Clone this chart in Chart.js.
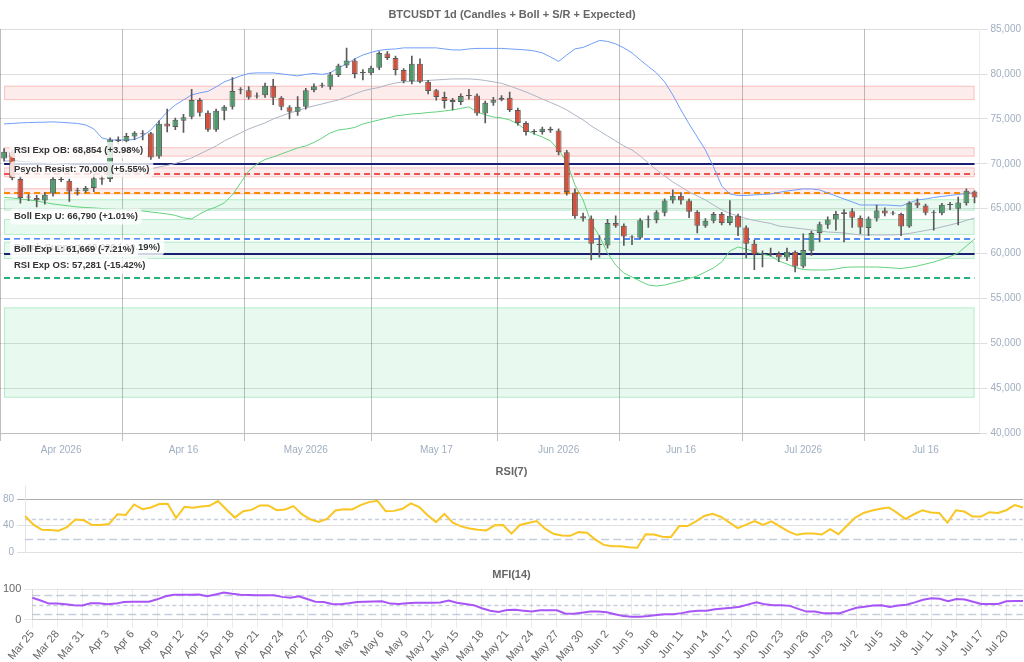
<!DOCTYPE html>
<html>
<head>
<meta charset="utf-8">
<script src="https://cdn.jsdelivr.net/npm/chart.js@4.4.1/dist/chart.umd.min.js"></script>
<style>
  html, body { margin: 0; padding: 0; background: #fff; }
  body { width: 1024px; height: 662px; position: relative; overflow: hidden; }
  .panel { position: absolute; left: 0; width: 1024px; }
</style>
</head>
<body>
<div class="panel" style="top:0;height:461px"><canvas id="mainChart" width="1024" height="461"></canvas></div>
<div class="panel" style="top:458px;height:103px"><canvas id="rsiChart" width="1024" height="103"></canvas></div>
<div class="panel" style="top:556px;height:108px"><canvas id="mfiChart" width="1024" height="108"></canvas></div>
<script>
// ---- candles (Mar 25 .. Jul 22, 2026) ----
const opens = [70600,71300,68300,66300,66200,65900,66700,68200,68100,67000,66950,67300,68400,68300,72700,72500,73050,73300,73400,70800,
  74500,74100,74800,75250,77100,75700,73800,75900,76350,78200,78200,77500,77650,78700,77350,76300,75800,76350,78200,78700,
  78600,79900,80950,81500,80250,80100,80700,82300,81800,80450,79200,81150,79150,78200,77450,77100,76900,77550,77600,75600,
  76800,77150,77350,76000,74550,73600,73550,73900,73700,71300,66800,64150,63900,61000,60900,63400,63100,61800,61750,63700,
  63700,64550,65900,66450,65900,64650,63100,63650,64400,63400,64200,62900,61100,60000,59950,60000,59550,60200,58550,60300,
  62300,63200,63800,64400,64700,64000,62850,63900,64800,64450,64400,63000,65700,65350,64550,64500,65400,65000,65600,66900];
const highs = [71700,71500,68600,66600,66500,66800,68500,68500,68300,67300,67500,68800,68700,72900,73000,73400,73600,73700,73500,74800,
  76100,75100,75500,78300,77300,75900,76100,76500,79600,78500,78600,77900,79000,79400,77500,76500,77500,78400,78900,79000,
  80200,81100,82900,81700,80500,80900,82500,82500,82000,80600,82000,81700,79300,78300,78000,77300,77800,78300,77800,77000,
  77400,77600,78000,76200,74700,73800,74100,74100,73900,71500,67200,64500,64200,62000,63800,64200,63300,62000,63900,64200,
  64800,66100,67100,66800,66100,64800,63900,64600,64600,65900,64400,63100,61500,60300,60600,60200,60600,60300,62200,62500,
  63500,64100,64700,64900,65000,64200,64100,65400,65100,64700,64500,65800,66100,65500,64800,65600,65700,66300,67200,67000];
const lows = [70300,68200,65600,65900,65200,65500,66400,68000,65800,66500,66800,66900,67700,68000,72200,72300,72700,72660,70500,70600,
  73550,73800,73500,75000,75300,73600,73600,74900,76100,77800,77200,77300,77400,76600,76000,75000,75400,76100,78000,78500,
  78300,79700,80700,79570,79350,79900,80500,81600,79900,79000,78900,79000,77800,77100,76200,76000,76600,77200,75400,74550,
  76500,77000,75800,74300,73200,73300,73300,73500,71000,66500,63900,63600,59280,59600,60600,62900,60900,61000,61600,62900,
  63400,64200,65600,65500,64000,62300,62900,63400,63200,63200,62000,59500,58200,58500,59700,59100,59200,57950,58400,59800,
  61300,62800,62600,61300,62900,62200,62000,63600,64200,64300,62000,62900,65100,64300,62600,64300,64900,63200,65400,65650];
const closes = [71350,68400,66200,66250,65950,66550,68300,68300,66900,66950,67300,68400,68250,72700,72500,73100,73450,73400,70700,74450,
  74150,74900,75200,77100,75700,73800,75900,76350,78100,78250,77400,77600,78700,77350,76350,75800,76350,78200,78650,78800,
  79950,80950,81500,80000,80100,80700,82350,81800,80450,79200,81150,79150,78100,77450,77000,76900,77550,77600,75600,76800,
  77150,77350,76000,74550,73550,73550,73900,73700,71300,66850,64150,63900,61100,60950,63400,63100,61900,61850,63700,63750,
  64600,65900,66450,65900,64650,63100,63650,64400,63400,64200,62900,61100,59900,59900,60000,59550,60200,58550,60400,62300,
  63250,63800,64400,64600,64000,62900,63900,64800,64450,64500,63000,65650,65350,64550,64500,65450,65500,65700,67000,66250];

// ---- Bollinger bands ----
const bollUpper = [74440,74500,74560,74590,74620,74640,74670,74620,74560,74500,74330,73890,72880,72660,72660,72660,72710,73100,73770,74780,
  75780,76560,77120,77680,77900,78070,78570,79130,79460,79790,80070,80130,80130,80130,80020,79910,79790,79960,80070,79960,
  80130,80690,81130,81690,82130,82410,82640,82750,82800,82920,82920,82920,82920,82920,82800,82690,82690,82800,82860,82860,
  82860,82860,82800,82750,82690,82580,82360,81910,81410,82130,82800,82970,83360,83750,83640,83360,82920,82360,81580,80850,
  80130,79130,77680,76000,74440,72990,71540,69650,67530,66640,66470,66470,66530,66580,66640,66810,66970,67090,67200,67200,
  67090,66750,66420,66080,65750,65410,65410,65410,65410,65360,65300,65640,65970,66080,66250,66360,66470,66580,66700,66750];
const bollMid = [70320,70320,70270,70210,70150,70100,70040,69980,69870,69760,69650,69480,69090,68930,68870,68870,68980,69200,69430,69650,
  69820,70040,70320,70650,71100,71540,71990,72550,72990,73440,73880,74220,74550,75000,75330,75670,75890,76230,76450,76670,
  76900,77120,77450,77790,78120,78340,78510,78790,79010,79130,79180,79240,79290,79350,79400,79460,79460,79460,79400,79290,
  79130,78960,78680,78340,78010,77620,77230,76840,76450,76000,75440,74890,74220,73660,73100,72550,71990,71540,70880,70100,
  69320,68650,67980,67420,66860,66420,65970,65410,64860,64470,64190,63910,63690,63520,63350,63070,62960,62850,62740,62630,
  62520,62400,62350,62290,62180,62070,62070,62070,62070,62070,62120,62240,62400,62570,62740,62960,63180,63410,63690,63960];
const bollLower = [66250,66190,66080,65970,65860,65690,65520,65410,65300,65190,65130,65080,65020,64970,64910,64860,64800,64740,64630,64520,
  64410,64250,63970,63860,64410,64860,65190,65640,66530,67870,69200,69980,70480,70760,71100,71430,71770,71990,72380,72880,
  73440,73770,73880,74050,74440,74670,74890,75110,75330,75450,75560,75610,75720,75780,75890,76000,76170,76340,75780,75450,
  75220,75110,74890,74440,73770,73330,72990,72550,71550,70210,67640,65970,63410,61960,60050,58720,57830,57380,56930,56490,
  56380,56490,56720,56940,57220,57500,57940,58390,59060,60280,60730,60510,60170,59950,59720,59170,58830,58450,58220,58170,
  58170,58170,58280,58450,58500,58500,58500,58500,58450,58390,58330,58450,58610,58830,59060,59340,59670,60060,60840,61620];

// ---- oscillators ----
const rsi7 = [54.8,41.5,33.8,33.3,32.3,37.9,49.2,48.2,41.0,41.0,42.5,57.4,56.4,72.3,65.1,67.7,72.8,73.3,51.7,68.6,
  67.1,69.2,70.2,77.4,64.6,52.3,62.0,64.0,70.8,70.8,63.5,64.6,69.7,57.4,49.7,45.5,50.2,63.1,65.1,64.6,
  71.2,75.8,77.9,62.0,62.5,65.6,73.8,68.2,55.8,45.5,57.9,44.6,38.9,35.8,33.8,32.8,40.5,41.0,28.0,41.0,
  44.0,47.1,35.4,27.7,25.1,24.6,30.2,29.2,18.9,10.8,8.6,8.6,7.1,6.6,27.1,26.6,23.1,22.5,39.4,39.4,
  46.6,54.8,57.9,53.2,44.6,36.3,41.5,47.1,41.0,46.6,38.9,31.2,26.1,28.2,28.2,26.6,34.8,27.1,40.0,52.3,
  59.4,63.1,65.6,67.7,59.4,50.2,57.4,63.5,60.0,59.4,44.6,63.5,61.5,53.8,53.8,60.5,59.4,63.5,71.2,67.7];
const mfi14 = [72,63,53,53,51,48,47,54,54,51,53,58,59,59,59,67,77,82,82,82,
  83,77,83,89,85,82,81,80,80,80,75,72,77,68,59,58,52,51,54,58,
  59,60,61,53,52,54,56,56,56,57,63,56,52,48,38,30,26,32,33,30,
  27,31,31,31,21,20,23.5,27,27,24.7,18.5,12.3,10,10,12.3,16,18.5,18.5,22,27,
  29.6,29.6,34.6,37,39.5,43,50.6,57,50.6,48,48,45.7,35.8,27,27,22,22,22,31,39.5,
  43,47,48,42,47,49.4,57,65.4,70.4,69,60.5,68,66.7,59.3,52,52,52,60.5,61.7,61.7];

// ---- S/R zones and expected levels ----
const resistZones = [[77100, 78700], [70800, 71850], [68500, 69600], [66600, 67280]];
const supportZones = [[64780, 66050], [62070, 63850], [59390, 61320], [43930, 54000]];
const levelNames = ["RSI Exp OB", "Psych Resist", "Boll Exp U", "Psych Support", "Boll Exp L", "RSI Exp OS"];
const levelValues = [68854, 70000, 66790, 60000, 61669, 57281];
const levelPcts = ["+3.98%", "+5.55%", "+1.01%", "-10.19%", "-7.21%", "-15.42%"];

// ---- x tick labels ----
const mainTickIdx = [7, 22, 37, 53, 68, 83, 98, 113];
const mainTickLabels = ["Apr 2026", "Apr 16", "May 2026", "May 17", "Jun 2026", "Jun 16", "Jul 2026", "Jul 16"];
const monthNames = ["Jan","Feb","Mar","Apr","May","Jun","Jul","Aug","Sep","Oct","Nov","Dec"];
const dayLabels = closes.map((_, i) => {
  const d = new Date(2026, 2, 25 + i);
  return monthNames[d.getMonth()] + " " + d.getDate();
});

// styles
const levelStyle = [
  { color: "#ef5350", dash: [6, 4] },
  { color: "#1a1f71", dash: [] },
  { color: "#fb8c00", dash: [6, 4] },
  { color: "#1a1f71", dash: [] },
  { color: "#4f8ef7", dash: [6, 4] },
  { color: "#26b07a", dash: [6, 4] }
];
const labelShift = [-24, 5.5, 24, -6, 10.7, -12.3];
const upColor = "#4f9a6d";
const downColor = "#d3503c";

Chart.defaults.font.family = "'Liberation Sans', Arial, sans-serif";
Chart.defaults.animation = false;

const idx = closes.map((_, i) => i);
const asPoints = arr => arr.map((v, i) => ({ x: i, y: v }));

const levelsPlugin = {
  id: "levels",
  beforeDatasetsDraw(chart) {
    const { ctx, scales: { x, y } } = chart;
    const x0 = x.getPixelForValue(0);
    const x1 = x.getPixelForValue(closes.length - 1);
    ctx.save();
    const drawZone = (z, fill, stroke) => {
      const top = y.getPixelForValue(z[1]);
      const bot = y.getPixelForValue(z[0]);
      ctx.fillStyle = fill;
      ctx.fillRect(x0, top, x1 - x0, bot - top);
      ctx.strokeStyle = stroke;
      ctx.lineWidth = 1;
      ctx.strokeRect(x0 + 0.5, top + 0.5, x1 - x0 - 1, bot - top - 1);
    };
    resistZones.forEach(z => drawZone(z, "rgba(239,68,68,0.10)", "rgba(239,68,68,0.25)"));
    supportZones.forEach(z => drawZone(z, "rgba(34,197,94,0.10)", "rgba(34,197,94,0.25)"));
    levelValues.forEach((v, k) => {
      const py = Math.round(y.getPixelForValue(v));
      ctx.strokeStyle = levelStyle[k].color;
      ctx.setLineDash(levelStyle[k].dash);
      ctx.lineWidth = 2;
      ctx.beginPath();
      ctx.moveTo(x0, py);
      ctx.lineTo(x1, py);
      ctx.stroke();
    });
    ctx.restore();
  },
  afterDatasetsDraw(chart) {
    const { ctx, scales: { y }, chartArea } = chart;
    ctx.save();
    ctx.font = "bold 9.5px 'Liberation Sans', Arial, sans-serif";
    ctx.textBaseline = "middle";
    levelNames.forEach((name, k) => {
      const txt = name + ": " + levelValues[k].toLocaleString("en-US") + " (" + levelPcts[k] + ")";
      const cy = y.getPixelForValue(levelValues[k]) + labelShift[k];
      const w = ctx.measureText(txt).width;
      const bx = chartArea.left + 10;
      ctx.fillStyle = "rgba(255,255,255,0.8)";
      ctx.beginPath();
      ctx.roundRect(bx, cy - 8, w + 8, 16, 4);
      ctx.fill();
      ctx.fillStyle = "#333";
      ctx.fillText(txt, bx + 4, cy);
    });
    ctx.restore();
  }
};

// Main chart - candles + bands + levels
new Chart(document.getElementById("mainChart"), {
  type: "bar",
  data: {
    datasets: [
      { type: "line", label: "Boll Upper", data: asPoints(bollUpper), borderColor: "#6f9ef8", borderWidth: 1, pointRadius: 0, order: 5 },
      { type: "line", label: "Boll Mid", data: asPoints(bollMid), borderColor: "#aeb4c4", borderWidth: 1, pointRadius: 0, order: 5 },
      { type: "line", label: "Boll Lower", data: asPoints(bollLower), borderColor: "#62d27c", borderWidth: 1, pointRadius: 0, order: 5 },
      {
        label: "Wick",
        data: idx.map(i => ({ x: i, y: [lows[i], highs[i]] })),
        backgroundColor: "#5a5a5a",
        barThickness: 1,
        grouped: false,
        order: 2
      },
      {
        label: "Body",
        data: idx.map(i => ({ x: i, y: [opens[i], closes[i]] })),
        backgroundColor: idx.map(i => closes[i] >= opens[i] ? upColor : downColor),
        borderColor: "#5a5a5a",
        borderWidth: 1,
        borderSkipped: false,
        minBarLength: 1,
        grouped: false,
        order: 1
      }
    ]
  },
  options: {
    responsive: false,
    layout: { padding: { left: 0, right: 0, top: 0, bottom: 2 } },
    plugins: {
      legend: { display: false },
      tooltip: { enabled: false },
      title: {
        display: true,
        text: "BTCUSDT 1d (Candles + Boll + S/R + Expected)",
        color: "#666",
        font: { size: 11, weight: "bold" },
        padding: { top: 8, bottom: 8 }
      }
    },
    scales: {
      x: {
        type: "linear",
        min: -0.5,
        max: 119.6,
        offset: false,
        afterBuildTicks: axis => { axis.ticks = mainTickIdx.map(v => ({ value: v })); },
        ticks: {
          autoSkip: false,
          maxRotation: 0,
          color: "#a0aec0",
          font: { size: 10 },
          callback: v => mainTickLabels[mainTickIdx.indexOf(v)]
        },
        grid: { color: "rgba(0,0,0,0.25)" },
        border: { color: "rgba(0,0,0,0.15)" }
      },
      y: {
        position: "right",
        min: 40000,
        max: 85000,
        ticks: {
          stepSize: 5000,
          color: "#a0aec0",
          font: { size: 10 },
          callback: v => v.toLocaleString("en-US")
        },
        grid: { color: "rgba(0,0,0,0.13)" },
        border: { color: "rgba(0,0,0,0.08)" }
      }
    }
  },
  plugins: [levelsPlugin]
});

function refLines(levels) {
  return {
    id: "refLines",
    beforeDatasetsDraw(chart) {
      const { ctx, chartArea, scales: { y } } = chart;
      ctx.save();
      ctx.strokeStyle = "rgba(160,174,200,0.6)";
      ctx.lineWidth = 1.5;
      levels.forEach(v => {
        const py = Math.round(y.getPixelForValue(v)) + 0.5;
        ctx.setLineDash(v === 50 ? [4, 3] : [8, 4]);
        ctx.beginPath();
        ctx.moveTo(chartArea.left, py);
        ctx.lineTo(chartArea.right, py);
        ctx.stroke();
      });
      ctx.restore();
    }
  };
}

// RSI(7)
new Chart(document.getElementById("rsiChart"), {
  type: "line",
  data: {
    labels: dayLabels,
    datasets: [{ label: "RSI(7)", data: rsi7, borderColor: "#f9c623", borderWidth: 2, pointRadius: 0, tension: 0 }]
  },
  options: {
    responsive: false,
    layout: { padding: { left: 0, right: 1, top: 0, bottom: 0 } },
    plugins: {
      legend: { display: false },
      tooltip: { enabled: false },
      title: { display: true, text: "RSI(7)", color: "#666", font: { size: 11, weight: "bold" }, padding: { top: 7, bottom: 8 } }
    },
    scales: {
      x: { display: false, offset: false },
      y: {
        min: 0,
        max: 100,
        afterBuildTicks: axis => { axis.ticks = [0, 40, 80].map(v => ({ value: v })); },
        ticks: { color: "#a0aec0", font: { size: 10 } },
        grid: { color: c => c.tick && c.tick.value === 80 ? "rgba(0,0,0,0.32)" : "rgba(0,0,0,0.12)" },
        border: { color: "rgba(0,0,0,0.1)" }
      }
    }
  },
  plugins: [refLines([50, 20])]
});

// MFI(14)
new Chart(document.getElementById("mfiChart"), {
  type: "line",
  data: {
    labels: dayLabels,
    datasets: [{ label: "MFI(14)", data: mfi14, borderColor: "#a855f7", borderWidth: 2, pointRadius: 0, tension: 0 }]
  },
  options: {
    responsive: false,
    layout: { padding: { left: 0, right: 1, top: 0, bottom: 0 } },
    plugins: {
      legend: { display: false },
      tooltip: { enabled: false },
      title: { display: true, text: "MFI(14)", color: "#666", font: { size: 11, weight: "bold" }, padding: { top: 12, bottom: 8 } }
    },
    scales: {
      x: {
        offset: false,
        ticks: {
          autoSkip: false,
          minRotation: 50,
          maxRotation: 50,
          padding: 0,
          color: "#666",
          font: { size: 11 },
          callback: (v, i) => i % 3 === 0 ? dayLabels[i] : null
        },
        grid: { color: "rgba(0,0,0,0.08)" },
        border: { color: "rgba(0,0,0,0.12)" }
      },
      y: {
        min: 0,
        max: 100,
        afterBuildTicks: axis => { axis.ticks = [{ value: 0 }, { value: 100 }]; },
        ticks: { color: "#666", font: { size: 11 } },
        grid: { color: "rgba(0,0,0,0.1)" },
        border: { color: "rgba(0,0,0,0.1)" }
      }
    }
  },
  plugins: [refLines([80, 50, 20])]
});
</script>
</body>
</html>
